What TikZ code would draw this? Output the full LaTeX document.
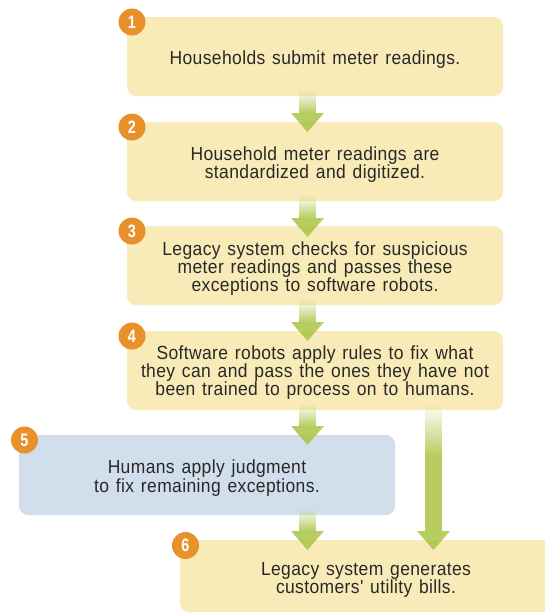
\documentclass[tikz,border=0pt]{standalone}
\usepackage{fontspec}
\setmainfont{Liberation Sans}[FakeStretch=0.92, WordSpace=1.3, LetterSpace=2, Ligatures=TeXOff]
\newfontfamily\numfont{Liberation Sans}[FakeStretch=0.8]
\usetikzlibrary{fadings}
\definecolor{boxyellow}{RGB}{248,235,183}
\definecolor{boxblue}{RGB}{209,223,236}
\definecolor{numorange}{RGB}{232,145,42}
\definecolor{arrgreen}{RGB}{170,196,70}
\definecolor{txtcol}{RGB}{40,40,40}
\tikzfading[name=shaftfade, top color=transparent!100, bottom color=transparent!15]
\newcommand\blockarrow[4]{% x, shaft top, fade end, tip
  \fill[arrgreen, path fading=shaftfade] (#1-8.5,#2) rectangle (#1+8.5,#3);
  \fill[arrgreen, opacity=0.85] (#1-8.5,#3) rectangle (#1+8.5,#4-19);
  \fill[arrgreen, opacity=0.85] (#1-16.5,#4-19) -- (#1+16.5,#4-19) -- (#1,#4) -- cycle;
}
\tikzset{
  stepbox/.style={fill=boxyellow, rounded corners=9pt, inner sep=0pt,
    minimum width=376pt, minimum height=79pt},
  humanbox/.style={stepbox, fill=boxblue, minimum height=80pt},
  steptext/.style={inner sep=0pt, align=center, text=txtcol,
    font=\fontsize{19}{18.3}\selectfont},
  numcirc/.style={circle, fill=numorange, text=white, inner sep=0pt, minimum size=27pt,
    font=\numfont\bfseries\fontsize{18}{18}\selectfont}
}
\begin{document}
\begin{tikzpicture}[x=1pt, y=-1pt]
\useasboundingbox (0,0) rectangle (545,613);
\clip (0,0) rectangle (545,613);
\node[stepbox] (b1) at (315,56.5) {};
\node[stepbox] (b2) at (315,161.5) {};
\node[stepbox] (b3) at (315,265.5) {};
\node[stepbox] (b4) at (315,370.5) {};
\node[humanbox] (b5) at (207,475) {};
\node[stepbox, minimum width=372pt, minimum height=72pt] (b6) at (366,576) {};
\node[steptext] (t1) at ([yshift=-3pt]b1.center) {Households submit meter readings.};
\node[steptext] (t2) at ([yshift=-3pt]b2.center) {Household meter readings are\\standardized and digitized.};
\node[steptext] (t3) at ([yshift=-3pt]b3.center) {Legacy system checks for suspicious\\meter readings and passes these\\exceptions to software robots.};
\node[steptext] (t4) at ([yshift=-2pt]b4.center) {Software robots apply rules to fix what\\they can and pass the ones they have not\\been trained to process on to humans.};
\node[steptext] (t5) at ([yshift=-3pt]b5.center) {Humans apply judgment\\to fix remaining exceptions.};
\node[steptext] (t6) at ([yshift=-4pt]b6.center) {Legacy system generates\\customers' utility bills.};
% arrows
\blockarrow{307.5}{90}{113}{132}
\blockarrow{307.5}{195}{218}{237}
\blockarrow{307.5}{299}{322}{341}
\blockarrow{307.5}{404}{426}{445}
\blockarrow{307.5}{508}{531}{550}
\blockarrow{433.5}{404}{455}{550}
% numbers
\node[numcirc] (n1) at (132,22) {1};
\node[numcirc] (n2) at (132,127) {2};
\node[numcirc] (n3) at (132,231) {3};
\node[numcirc] (n4) at (132,336) {4};
\node[numcirc] (n5) at (24.5,440) {5};
\node[numcirc] (n6) at (185.5,545.5) {6};
\end{tikzpicture}
\end{document}
